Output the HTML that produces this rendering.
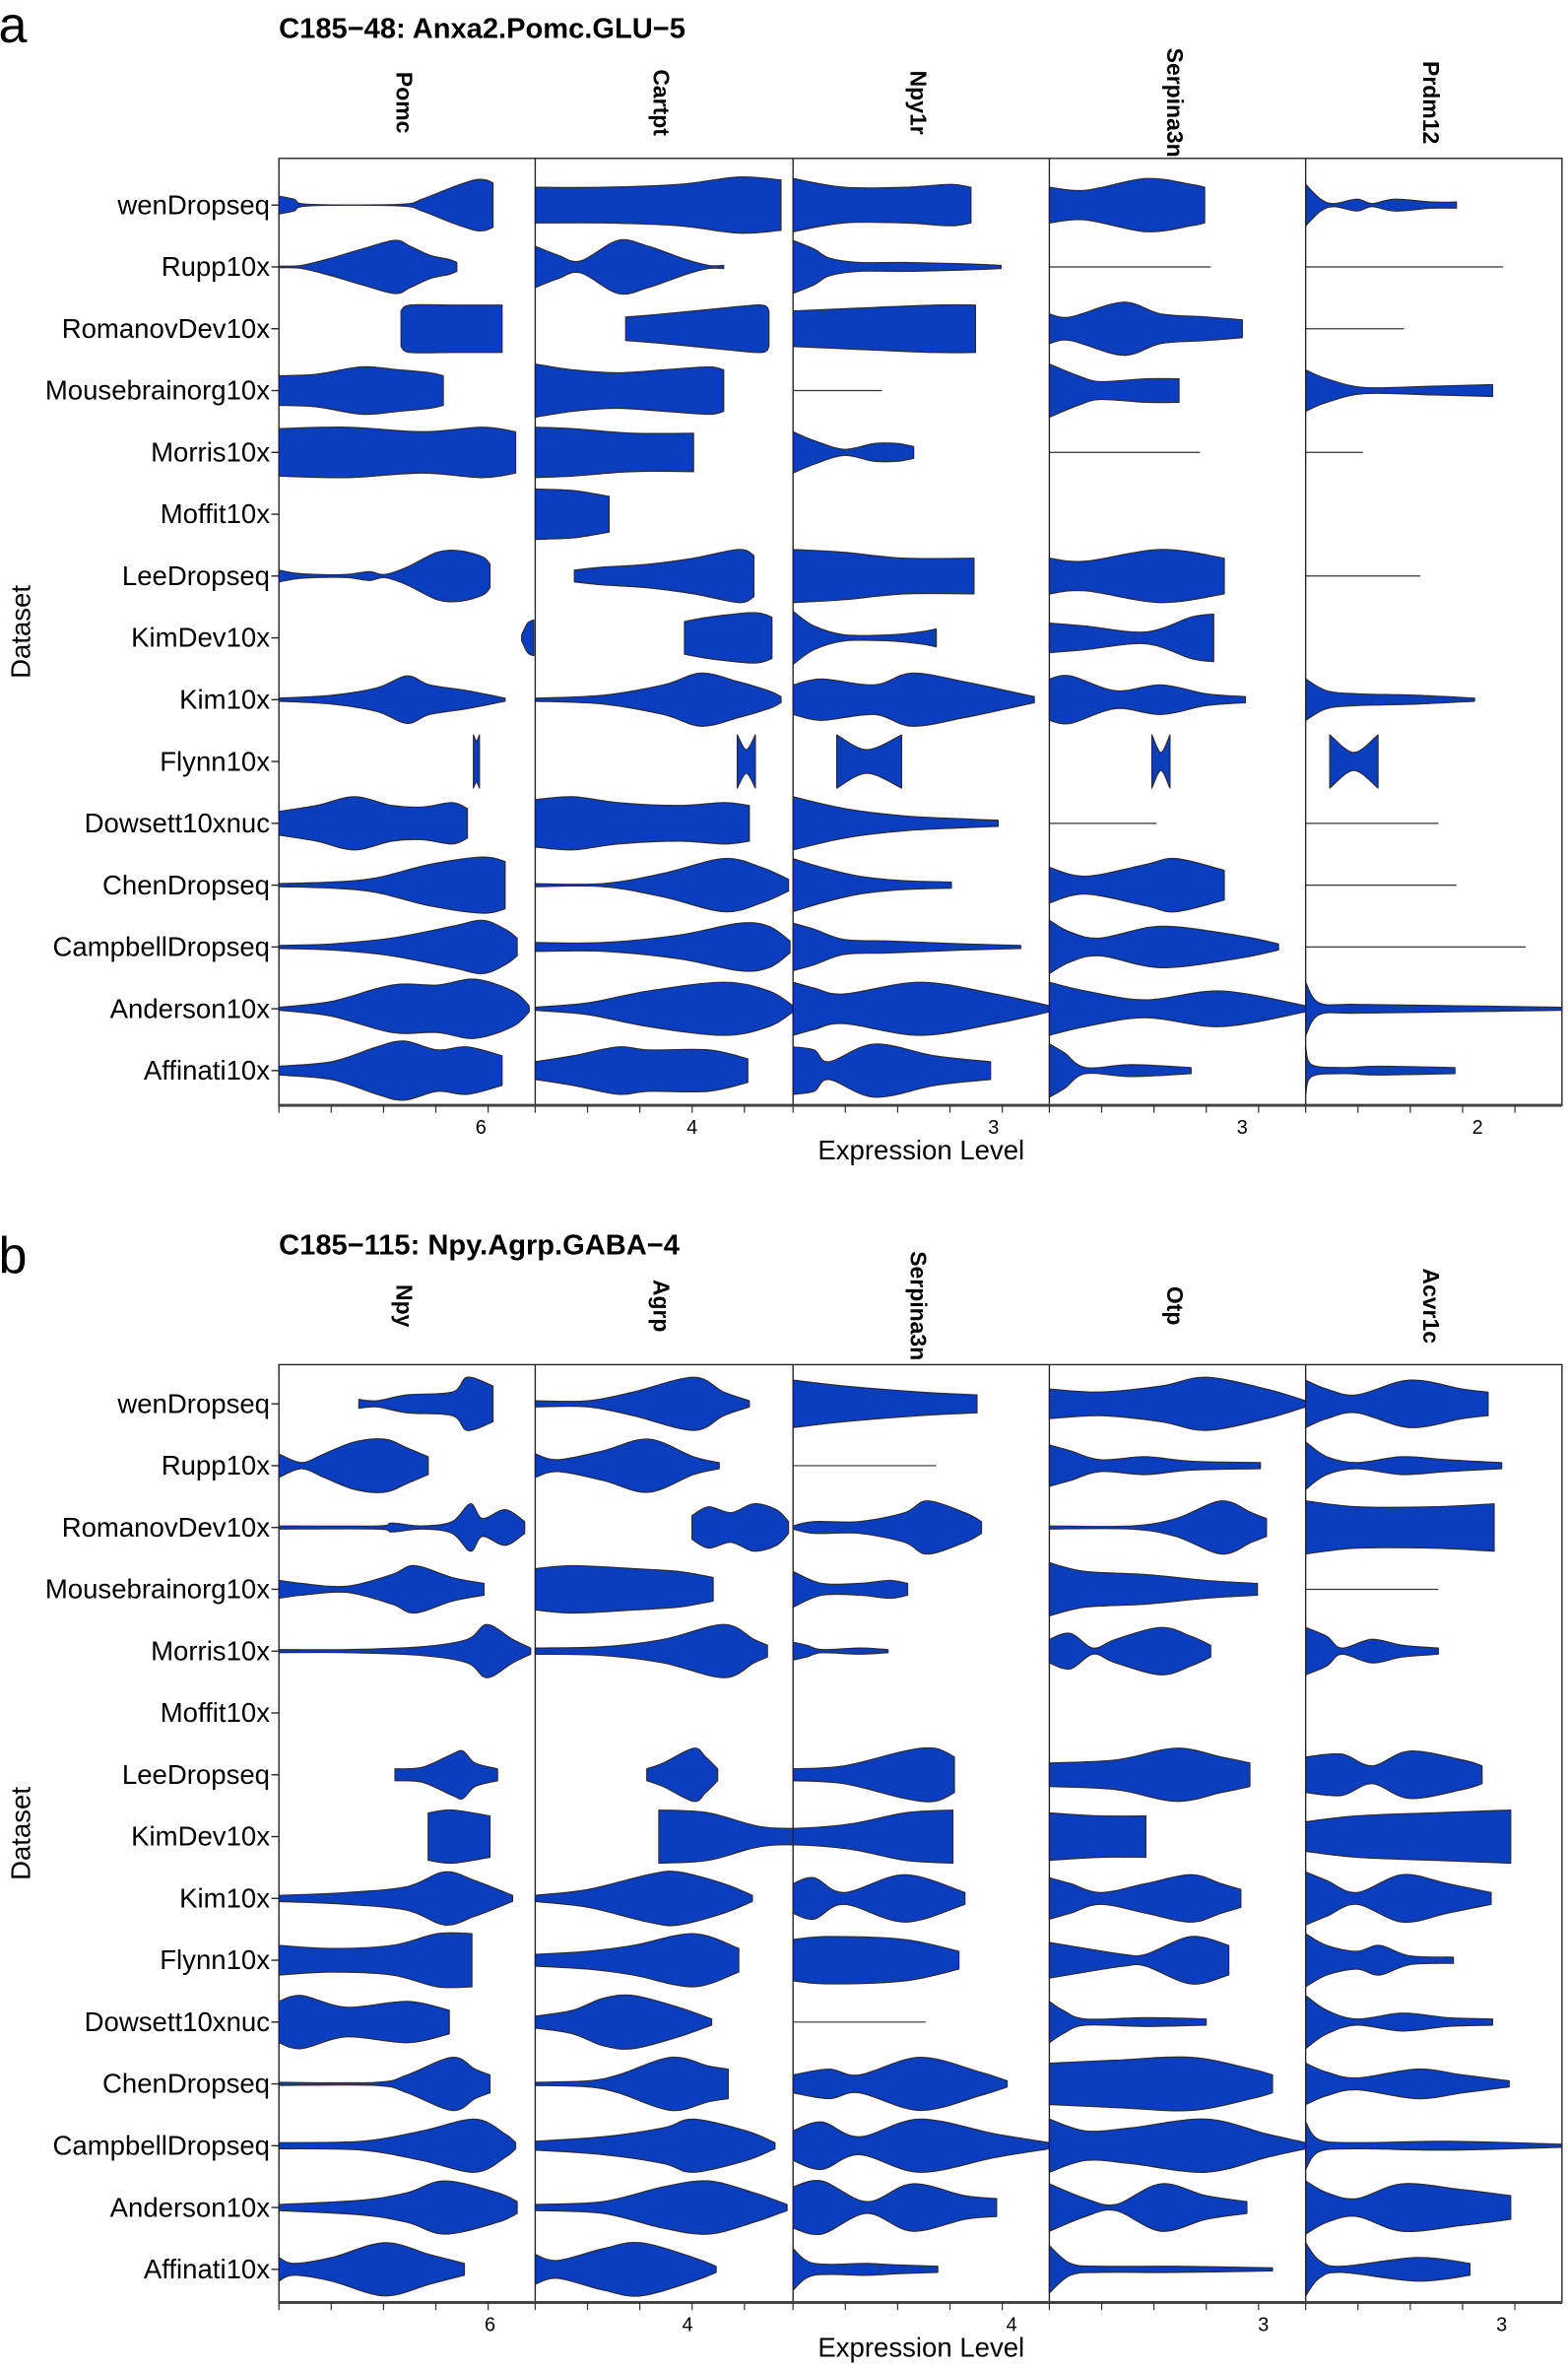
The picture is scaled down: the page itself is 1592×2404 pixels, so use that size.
<!DOCTYPE html>
<html><head><meta charset="utf-8"><style>
html,body{margin:0;padding:0;background:#fff;}
svg{display:block;}
text{font-family:"Liberation Sans",sans-serif;fill:#000;}
</style></head><body>
<svg id="s" xmlns="http://www.w3.org/2000/svg" width="1592" height="2404" viewBox="0 0 1040 1570.4">
<rect width="1040" height="1571" fill="#fff"/>
<g id="g"></g>
</svg>
<script>
const NS="http://www.w3.org/2000/svg";
const g=document.getElementById('g');
function el(t,a,txt){const e=document.createElementNS(NS,t);for(const k in a)e.setAttribute(k,a[k]);if(txt!==undefined)e.textContent=txt;g.appendChild(e);return e;}
const names=["wenDropseq","Rupp10x","RomanovDev10x","Mousebrainorg10x","Morris10x","Moffit10x","LeeDropseq","KimDev10x","Kim10x","Flynn10x","Dowsett10xnuc","ChenDropseq","CampbellDropseq","Anderson10x","Affinati10x"];
const divs=[185,355,526,696,866,1036];
function cr(pts){
  let d="M"+pts[0][0]+","+pts[0][1];
  for(let i=0;i<pts.length-1;i++){
    const p0=pts[Math.max(i-1,0)],p1=pts[i],p2=pts[i+1],p3=pts[Math.min(i+2,pts.length-1)];
    const c1=[p1[0]+(p2[0]-p0[0])/6,p1[1]+(p2[1]-p0[1])/6];
    const c2=[p2[0]-(p3[0]-p1[0])/6,p2[1]-(p3[1]-p1[1])/6];
    d+=" C"+c1[0].toFixed(1)+","+c1[1].toFixed(1)+" "+c2[0].toFixed(1)+","+c2[1].toFixed(1)+" "+p2[0]+","+p2[1];
  }
  return d;
}
function violin(v,y){
  const top=v.map(p=>[p[0],+(y-p[1]*0.98).toFixed(1)]);
  const bot=v.slice().reverse().map(p=>[p[0],+(y+p[1]*0.98).toFixed(1)]);
  let d=cr(top)+" L"+bot[0][0]+","+bot[0][1]+cr(bot).replace(/^M[^C]*/,"")+" Z";
  el('path',{d:d,fill:'#0b3dbf',stroke:'#2b2b3b','stroke-width':0.8,'stroke-linejoin':'round'});
}
function panel(o){
  const T=o.top,B=o.bot,rows=o.rows;
  el('text',{x:-1,y:o.letterY,'font-size':34},o.letter);
  el('text',{x:185,y:o.titleY,'font-size':19,'font-weight':'bold'},o.title);
  o.genes.forEach((gn,i)=>{const cx=(divs[i]+divs[i+1])/2-2;
    el('text',{x:0,y:0,'font-size':15,'font-weight':'bold','text-anchor':'middle',transform:`translate(${cx-5},${o.geneY}) rotate(90)`},gn);});
  o.data.forEach((col,ci)=>{col.forEach((v,ri)=>{if(v===null)return;
    if(typeof v==="number"){el('line',{x1:divs[ci],y1:rows[ri],x2:v,y2:rows[ri],stroke:'#333','stroke-width':0.8});}
    else violin(v,rows[ri]);});});
  el('rect',{x:185,y:T,width:851,height:B-T,fill:'none',stroke:'#222','stroke-width':0.9});
  divs.slice(1,5).forEach(x=>el('line',{x1:x,y1:T,x2:x,y2:B,stroke:'#222','stroke-width':0.9}));
  el('line',{x1:185,y1:B,x2:1036,y2:B,stroke:'#444','stroke-width':2});
  names.forEach((n,i)=>{el('text',{x:179,y:rows[i]+6,'font-size':18,'text-anchor':'end','textLength':n.length*8.9>150?null:undefined},n);
    el('line',{x1:180,y1:rows[i],x2:185,y2:rows[i],stroke:'#222','stroke-width':0.9});});
  o.ticks.forEach(t=>{el('text',{x:t[0],y:B+19,'font-size':13,'text-anchor':'middle'},t[1]);});
  divs.slice(0,5).forEach((x,i)=>{for(let k=0;k<5;k++){const tx=x+k*(170/4.9);el('line',{x1:tx,y1:B,x2:tx,y2:B+5,stroke:'#333','stroke-width':0.8});}});
  el('text',{x:611,y:B+36,'font-size':18,'text-anchor':'middle'},'Expression Level');
  el('text',{x:0,y:0,'font-size':18,'text-anchor':'middle',transform:`translate(20,${(T+B)/2}) rotate(-90)`},'Dataset');
}
const rowsA=[],rowsB=[];for(let i=0;i<15;i++){rowsA.push(136+41*i);rowsB.push(931+41*i);}
const A=[
[[[185,6],[195,4],[205,0.5],[265,0.5],[280,4],[300,12],[315,17],[322,17],[327,15]],
 [[185,0.5],[200,1],[220,6],[240,12],[262,18],[272,14],[285,8],[298,5],[303,3]],
 [[266,12],[272,16],[300,16],[333,16]],
 [[185,10],[210,11],[240,16],[265,14],[285,12],[294,10]],
 [[185,16],[230,17],[280,14],[320,17],[342,14]],
 null,
 [[185,4],[195,2],[210,1],[230,1],[245,3],[255,1],[270,6],[290,16],[305,17],[320,13],[325,8]],
 [[346,2],[350,10],[354,12]],
 [[185,1],[220,3],[250,8],[270,16],[285,10],[310,6],[335,1]],
 [[314,18],[316,14],[318,18]],
 [[185,8],[210,12],[235,18],[260,12],[280,11],[300,14],[310,10]],
 [[185,1],[220,2],[250,5],[285,14],[320,19],[335,16]],
 [[185,1],[220,2],[260,6],[300,14],[320,18],[335,12],[343,6]],
 [[185,1],[220,5],[260,16],[290,16],[315,20],[340,12],[351,2]],
 [[185,3],[220,6],[250,16],[268,20],[290,14],[310,16],[333,10]]],
[[[355,12],[400,12],[450,14],[490,19],[518,17]],
 [[355,14],[370,8],[385,4],[410,18],[430,14],[455,5],[470,1],[480,1]],
 [[415,8],[440,10],[480,14],[505,16],[510,12]],
 [[355,18],[380,14],[410,12],[440,14],[470,16],[480,14]],
 [[355,17],[380,16],[420,13],[460,13]],
 [[355,17],[380,16],[404,12]],
 [[381,4],[400,6],[430,8],[460,12],[490,18],[500,14]],
 [[454,11],[470,14],[500,17],[512,14]],
 [[355,1],[400,3],[440,10],[465,18],[490,12],[510,6],[518,2]],
 [[489,18],[495,8],[501,18]],
 [[355,16],[380,18],[410,14],[450,12],[480,14],[497,12]],
 [[355,1],[400,1],[440,8],[480,18],[505,12],[523,4]],
 [[355,3],[400,3],[450,8],[490,16],[510,14],[524,4]],
 [[355,1],[390,4],[430,12],[480,18],[510,12],[526,2]],
 [[355,6],[380,10],[410,16],[430,14],[470,14],[496,8]]],
[[[526,18],[560,12],[600,12],[630,14],[644,12]],
 [[526,18],[540,12],[550,6],[570,3],[600,3],[640,2],[664,1]],
 [[526,12],[570,14],[620,16],[647,16]],
 585,
 [[526,14],[540,8],[560,2],[580,6],[595,6],[606,4]],
 null,
 [[526,18],[560,16],[600,12],[646,12]],
 [[526,18],[540,8],[560,2],[590,2],[610,4],[621,6]],
 [[526,10],[545,14],[580,10],[605,18],[640,12],[686,2]],
 [[555,18],[575,8],[598,18]],
 [[526,18],[560,10],[600,5],[640,3],[662,2]],
 [[526,18],[545,12],[570,6],[600,3],[631,2]],
 [[526,16],[540,12],[560,5],[590,4],[640,2],[677,1]],
 [[526,18],[540,14],[560,10],[610,18],[660,10],[696,2]],
 [[526,16],[540,14],[550,6],[580,18],[620,10],[657,6]]],
[[[696,12],[720,10],[760,18],[790,14],[799,12]],
 803,
 [[696,10],[710,8],[745,18],[770,10],[800,8],[824,6]],
 [[696,18],[715,10],[730,6],[760,8],[782,8]],
 796,
 null,
 [[696,12],[720,10],[770,18],[812,12]],
 [[696,10],[720,8],[760,4],[790,14],[805,16]],
 [[696,14],[710,16],[740,6],[770,10],[800,4],[826,2]],
 [[764,18],[770,6],[776,18]],
 767,
 [[696,12],[720,6],[760,14],[780,18],[812,10]],
 [[696,18],[710,10],[730,6],[770,14],[820,8],[848,2]],
 [[696,18],[720,12],[760,6],[810,12],[866,2]],
 [[696,18],[706,12],[720,2],[750,4],[790,2]]],
[[[866,14],[876,4],[885,1],[900,4],[910,1],[925,4],[950,2],[966,2]],
 997, 931,
 [[866,14],[880,8],[905,2],[950,3],[990,4]],
 904, null, 942, null,
 [[866,14],[880,6],[900,4],[940,3],[978,1]],
 [[882,18],[898,6],[914,18]],
 954, 966, 1012,
 [[866,18],[875,4],[900,3],[966,2],[1036,1]],
 [[866,16],[870,4],[890,2],[915,3],[965,2]]]
];
const Bd=[
[[[238,3],[250,2],[270,6],[300,8],[310,18],[327,12]],
 [[185,8],[200,2],[215,8],[235,16],[255,18],[270,12],[284,6]],
 [[185,1],[250,1],[260,3],[280,1],[300,4],[312,16],[320,6],[335,12],[348,4]],
 [[185,6],[200,4],[230,2],[260,10],[275,16],[300,8],[321,4]],
 [[185,1],[230,1],[280,3],[310,8],[323,18],[340,8],[352,2]],
 null,
 [[262,4],[280,5],[300,14],[307,16],[315,8],[330,4]],
 [[284,16],[300,18],[325,14]],
 [[185,2],[230,4],[270,8],[295,18],[315,12],[340,2]],
 [[185,10],[220,8],[260,10],[290,18],[313,18]],
 [[185,14],[200,18],[230,10],[270,14],[298,8]],
 [[185,1],[250,1],[270,6],[300,18],[315,10],[325,6]],
 [[185,2],[240,3],[280,10],[315,18],[335,8],[342,2]],
 [[185,2],[240,5],[270,10],[295,18],[330,10],[343,4]],
 [[185,8],[195,4],[220,8],[255,18],[285,10],[308,4]]],
[[[355,2],[390,2],[420,8],[460,18],[480,8],[497,2]],
 [[355,8],[370,4],[400,10],[430,18],[460,6],[477,2]],
 [[459,8],[470,14],[485,10],[500,16],[515,12],[523,4]],
 [[355,14],[380,16],[420,14],[450,12],[473,8]],
 [[355,2],[400,3],[440,8],[480,18],[500,8],[509,4]],
 null,
 [[429,4],[440,8],[460,18],[468,12],[476,4]],
 [[437,18],[470,16],[510,6],[560,8],[600,16],[632,18]],
 [[355,2],[390,6],[430,16],[450,18],[480,10],[499,2]],
 [[355,4],[390,6],[420,10],[460,18],[490,8]],
 [[355,4],[380,8],[400,16],[420,18],[450,10],[472,2]],
 [[355,1],[390,2],[410,6],[445,18],[470,12],[483,10]],
 [[355,3],[400,6],[440,12],[460,18],[495,10],[514,2]],
 [[355,2],[400,4],[440,14],[470,18],[500,10],[522,2]],
 [[355,10],[370,6],[400,14],[425,18],[460,8],[475,2]]],
[[[526,16],[560,12],[610,8],[648,6]],
 621,
 [[526,1],[540,4],[570,4],[600,10],[615,18],[640,10],[651,4]],
 [[526,12],[545,4],[570,4],[590,6],[602,4]],
 [[526,6],[535,4],[545,1],[570,2],[589,1]],
 null,
 [[526,4],[560,6],[600,16],[620,18],[633,12]],
 null,
 [[526,10],[540,14],[560,4],[600,16],[640,4]],
 [[526,14],[550,16],[600,14],[636,6]],
 614,
 [[526,6],[550,10],[570,6],[610,18],[650,8],[668,2]],
 [[526,10],[545,16],[570,6],[610,18],[660,8],[696,2]],
 [[526,14],[545,18],[575,4],[605,16],[640,8],[661,6]],
 [[526,14],[540,4],[575,4],[595,3],[622,2]]],
[[[696,10],[730,8],[770,12],[800,18],[840,10],[866,2]],
 [[696,14],[710,10],[730,4],[760,6],[790,3],[836,2]],
 [[696,1],[750,1],[780,6],[810,18],[830,10],[840,6]],
 [[696,18],[720,12],[760,10],[800,6],[834,4]],
 [[696,8],[710,12],[725,2],[740,8],[770,16],[790,10],[803,4]],
 null,
 [[696,8],[740,10],[780,18],[810,12],[829,8]],
 [[696,16],[730,14],[760,14]],
 [[696,14],[710,10],[730,4],[760,10],[790,16],[810,10],[823,6]],
 [[696,12],[720,8],[745,4],[760,4],[790,16],[815,10]],
 [[696,14],[705,8],[720,2],[760,3],[800,2]],
 [[696,14],[740,16],[790,18],[830,10],[844,6]],
 [[696,18],[720,10],[750,12],[800,18],[840,8],[866,2]],
 [[696,16],[720,6],[740,2],[770,16],[800,8],[827,4]],
 [[696,16],[710,4],[730,2],[780,2],[844,1]]],
[[[866,16],[880,10],[900,6],[935,16],[970,10],[987,8]],
 [[866,16],[880,6],[900,2],[930,6],[960,4],[996,2]],
 [[866,18],[900,14],[950,14],[991,16]],
 954,
 [[866,16],[880,10],[890,2],[910,8],[930,4],[954,2]],
 null,
 [[866,12],[890,14],[910,6],[935,16],[970,10],[983,6]],
 [[866,10],[900,14],[950,16],[1002,18]],
 [[866,18],[880,12],[900,4],[930,16],[960,10],[989,4]],
 [[866,18],[880,10],[900,6],[915,10],[935,3],[964,2]],
 [[866,18],[880,8],[900,2],[930,6],[960,3],[990,2]],
 [[866,14],[880,8],[900,4],[940,10],[970,6],[1001,2]],
 [[866,16],[875,4],[900,2],[960,3],[1036,1]],
 [[866,18],[880,10],[900,6],[930,16],[970,12],[1002,8]],
 [[866,18],[875,6],[890,2],[940,8],[975,4]]]
];
panel({letter:'a',letterY:28,title:'C185\u221248: Anxa2.Pomc.GLU\u22125',titleY:25,genes:['Pomc','Cartpt','Npy1r','Serpina3n','Prdm12'],geneY:68,top:105,bot:733,rows:rowsA,data:A,
 ticks:[[319,'6'],[459,'4'],[659,'3'],[824,'3'],[980,'2']]});
panel({letter:'b',letterY:844,title:'C185\u2212115: Npy.Agrp.GABA\u22124',titleY:832,genes:['Npy','Agrp','Serpina3n','Otp','Acvr1c'],geneY:866,top:905,bot:1527,rows:rowsB,data:Bd,
 ticks:[[325,'6'],[456,'4'],[671,'4'],[838,'3'],[996,'3']]});
</script>
</body></html>
